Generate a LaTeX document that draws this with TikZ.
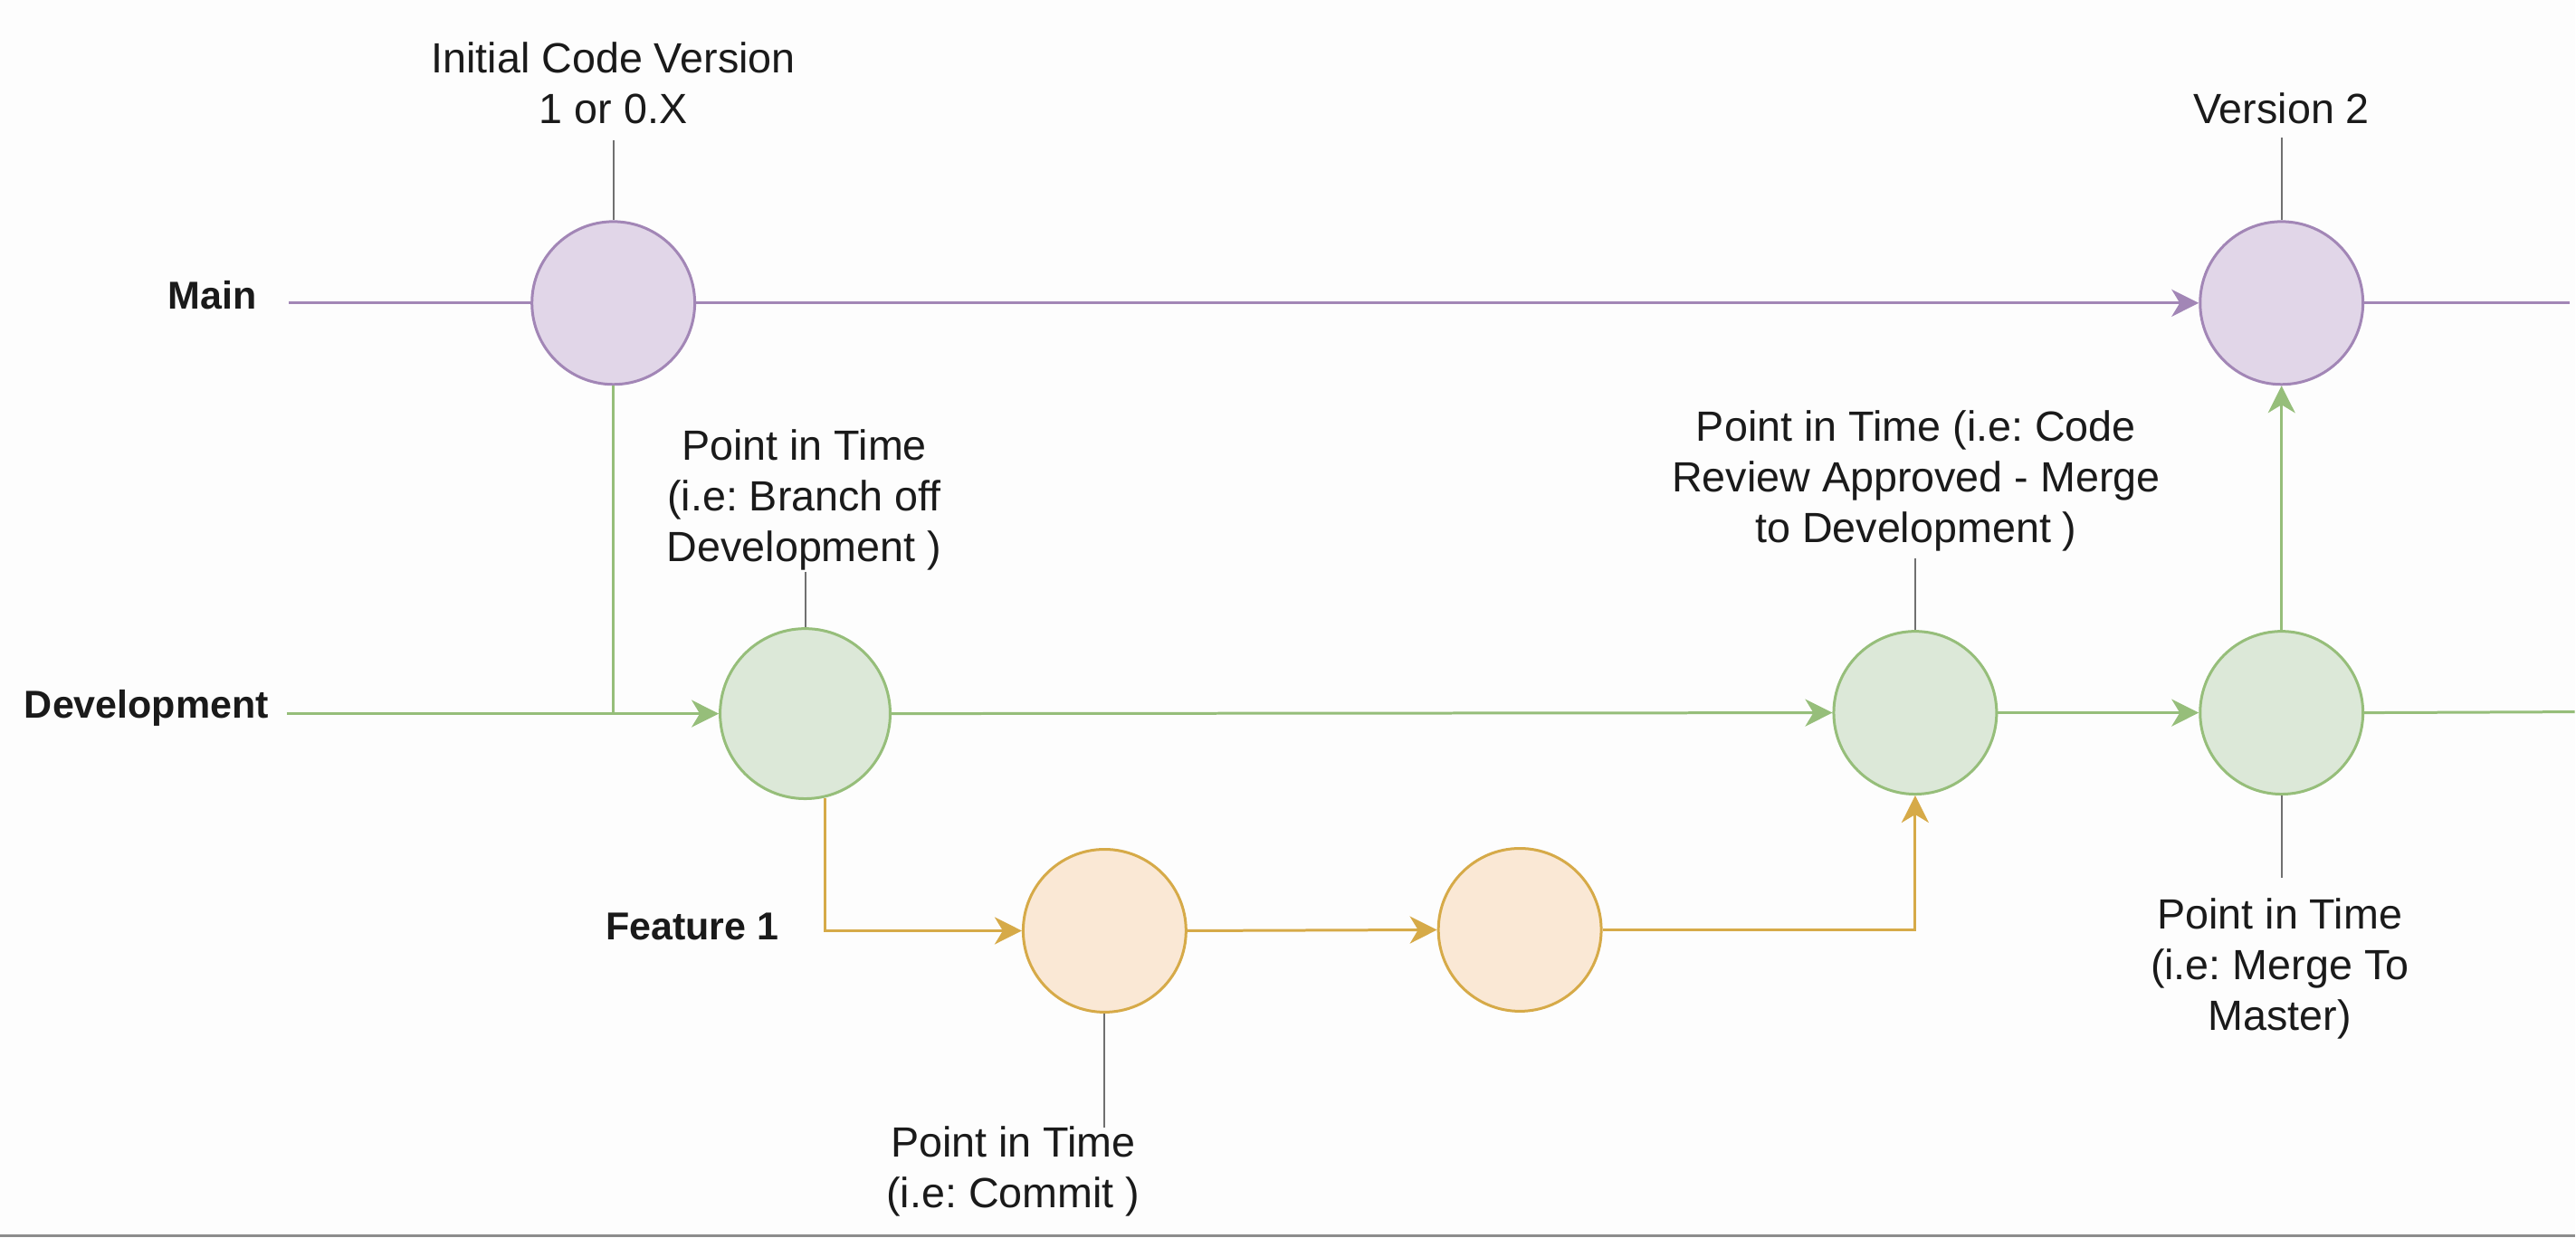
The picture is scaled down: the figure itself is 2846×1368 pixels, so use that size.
\documentclass[tikz,border=0pt]{standalone}
\usepackage{fontspec}
\setmainfont{Liberation Sans}
\usetikzlibrary{arrows.meta}
\frenchspacing
\definecolor{bgc}{HTML}{FDFDFD}
\definecolor{pstroke}{HTML}{A286B6}
\definecolor{pfill}{HTML}{E1D6E8}
\definecolor{gstroke}{HTML}{96BE7A}
\definecolor{gfill}{HTML}{DCE8D8}
\definecolor{ostroke}{HTML}{D6AA48}
\definecolor{ofill}{HTML}{FAE8D5}
\definecolor{leadc}{HTML}{707070}
\definecolor{txtc}{HTML}{1A1A1A}
\tikzset{
  commit/.style={circle, minimum size=180pt, inner sep=0pt, line width=3pt},
  pnode/.style={commit, draw=pstroke, fill=pfill},
  gnode/.style={commit, draw=gstroke, fill=gfill},
  onode/.style={commit, draw=ostroke, fill=ofill},
  tip/.style={-{Stealth[length=30pt,width=30pt,inset=9pt]}},
  pline/.style={draw=pstroke, line width=3pt},
  gline/.style={draw=gstroke, line width=3pt},
  oline/.style={draw=ostroke, line width=3pt},
  lead/.style={draw=leadc, line width=2pt},
  lbl/.style={inner sep=0pt, align=center, text=txtc, font=\fontsize{46.7}{56}\selectfont},
  branch/.style={inner sep=0pt, anchor=base, text=txtc, font=\fontsize{43}{52}\selectfont\bfseries},
}
\begin{document}
\begin{tikzpicture}[x=1pt, y=-1pt]
\fill[bgc] (0,0) rectangle (2846,1368);
\fill[gray!90] (0,1365) rectangle (2846,1368);

% commits
\node[pnode] (m1) at (678,335) {};
\node[pnode] (m2) at (2522,335) {};
\node[gnode, minimum size=188pt] (d1) at (890,789) {};
\node[gnode] (d2) at (2117,788) {};
\node[gnode] (d3) at (2522,788) {};
\node[onode] (f1) at (1221,1029) {};
\node[onode] (f2) at (1680,1028) {};

% branch labels
\node[branch] (lmain) at (235,341.5) {Main};
\node[branch] (ldev) at (162,794) {Development};
\node[branch] (lfeat) at (765,1039) {Feature 1};

% line endpoints
\coordinate (mstart) at (319,335);
\coordinate (mend) at (2840,335);
\coordinate (dstart) at (317,789);
\coordinate (dend) at (2846,787);
\coordinate (djoin) at (678,789);

% main branch
\draw[pline] (mstart) -- (m1.west);
\draw[pline, tip] (m1.east) -- (m2.west);
\draw[pline] (m2.east) -- (mend);

% development branch
\draw[gline] (m1.south) -- (djoin);
\draw[gline, tip] (dstart) -- (d1.west);
\draw[gline, tip] (d1.east) -- (d2.west);
\draw[gline, tip] (d2.east) -- (d3.west);
\draw[gline] (d3.east) -- (dend);
\draw[gline, tip] (d3.north) -- (m2.south);

% feature branch
\draw[oline, tip] (d1.-77.7) |- (f1.west);
\draw[oline, tip] (f1.east) -- (f2.west);
\draw[oline, tip] (f2.east) -| (d2.south);

% annotations
\node[lbl] (t1) at (678,92) {Initial Code Version\\1 or 0.X};
\coordinate (t1e) at (678,155);
\draw[lead] (t1e) -- (m1.north);

\node[lbl] (t2) at (2522,120) {Version 2};
\coordinate (t2e) at (2522,152);
\draw[lead] (t2e) -- (m2.north);

\node[lbl] (t3) at (889,553) {Point in Time\\(i.e: Branch off\\Development )};
\coordinate (t3e) at (890,632);
\draw[lead] (t3e) -- (d1.north);

\node[lbl] (t4) at (2118,532) {Point in Time (i.e: Code\\Review Approved - Merge\\to Development )};
\coordinate (t4e) at (2117,617);
\draw[lead] (t4e) -- (d2.north);

\node[lbl] (t5) at (2520,1071) {Point in Time\\(i.e: Merge To\\Master)};
\coordinate (t5e) at (2522,970);
\draw[lead] (d3.south) -- (t5e);

\node[lbl] (t6) at (1120,1295) {Point in Time\\(i.e: Commit )};
\coordinate (t6e) at (1221,1247);
\draw[lead] (f1.south) -- (t6e);
\end{tikzpicture}
\end{document}
